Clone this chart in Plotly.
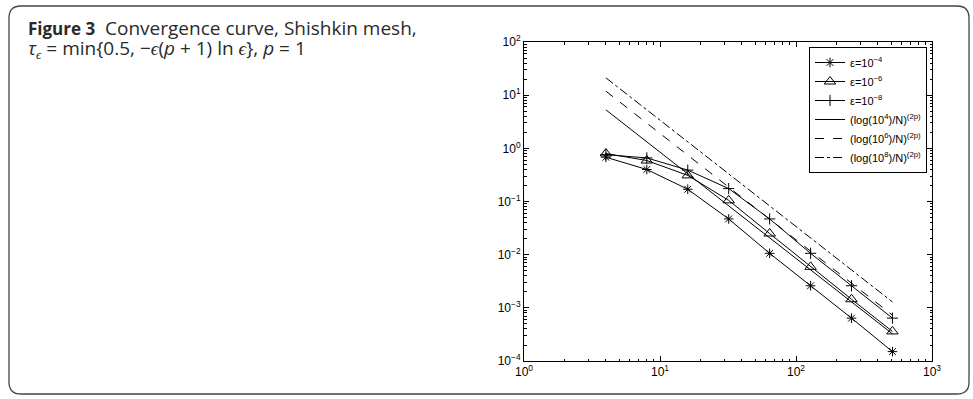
import plotly.graph_objects as go

# ---- data ----
N = [4, 8, 16, 32, 64, 128, 256, 512]
err_eps4 = [0.68, 0.40, 0.17, 0.047, 0.0106, 0.0026, 0.00064, 0.00015]
err_eps6 = [0.80, 0.59, 0.31, 0.105, 0.025, 0.0059, 0.00145, 0.00036]
err_eps8 = [0.76, 0.66, 0.39, 0.175, 0.047, 0.0106, 0.0026, 0.00064]
ref_log4 = [5.30, 1.33, 0.331, 0.0828, 0.0207, 0.00518, 0.00129, 0.000324]
ref_log6 = [11.9, 2.98, 0.746, 0.186, 0.0466, 0.0117, 0.00291, 0.000728]
ref_log8 = [21.2, 5.30, 1.33, 0.331, 0.0828, 0.0207, 0.00518, 0.00129]

names = ["ε=10<sup>−4</sup>", "ε=10<sup>−6</sup>", "ε=10<sup>−8</sup>",
         "(log(10<sup>4</sup>)/N)<sup>(2p)</sup>",
         "(log(10<sup>6</sup>)/N)<sup>(2p)</sup>",
         "(log(10<sup>8</sup>)/N)<sup>(2p)</sup>"]

x_tickvals = [1, 10, 100, 1000]
x_ticktext = ["10<sup>0</sup>", "10<sup>1</sup>", "10<sup>2</sup>", "10<sup>3</sup>"]
y_tickvals = [1e-4, 1e-3, 1e-2, 1e-1, 1, 10, 100]
y_ticktext = ["10<sup>−4</sup>", "10<sup>−3</sup>", "10<sup>−2</sup>", "10<sup>−1</sup>",
              "10<sup>0</sup>", "10<sup>1</sup>", "10<sup>2</sup>"]

W, H = 973, 399
L, R, T, B = 524, 932, 42, 361

fig = go.Figure()
line = dict(color="black", width=1)
fig.add_trace(go.Scatter(x=N, y=err_eps4, name=names[0], mode="lines+markers", line=line,
                         marker=dict(symbol="asterisk-open", size=8, color="black",
                                     line=dict(color="black", width=1))))
fig.add_trace(go.Scatter(x=N, y=err_eps6, name=names[1], mode="lines+markers", line=line,
                         marker=dict(symbol="triangle-up-open", size=10, color="black",
                                     line=dict(color="black", width=1))))
fig.add_trace(go.Scatter(x=N, y=err_eps8, name=names[2], mode="lines+markers", line=line,
                         marker=dict(symbol="cross-thin-open", size=8, color="black",
                                     line=dict(color="black", width=1))))
fig.add_trace(go.Scatter(x=N, y=ref_log4, name=names[3], mode="lines",
                         line=dict(color="black", width=1)))
fig.add_trace(go.Scatter(x=N, y=ref_log6, name=names[4], mode="lines",
                         line=dict(color="black", width=1, dash="dash")))
fig.add_trace(go.Scatter(x=N, y=ref_log8, name=names[5], mode="lines",
                         line=dict(color="black", width=1, dash="dashdot")))

axis_common = dict(type="log", showgrid=False,
                   zeroline=False, showline=True, linecolor="black", linewidth=1,
                   mirror="allticks", ticks="inside", ticklen=5, tickcolor="black",
                   tickfont=dict(family="Liberation Sans", size=12, color="black"),
                   minor=dict(ticks="inside", ticklen=2.5, dtick="D1", tickcolor="black",
                              showgrid=False))
fig.update_xaxes(range=[0, 3], tickmode="array", tickvals=x_tickvals, ticktext=x_ticktext,
                 **axis_common)
fig.update_yaxes(range=[-4, 2], tickmode="array", tickvals=y_tickvals, ticktext=y_ticktext,
                 **axis_common)

def px(x):
    return (x - L) / (R - L)

def py(y):
    return (B - y) / (B - T)

# rounded border
x0, x1, y0, y1, r = 9, 969, 6, 394, 12
path = (f"M {px(x0 + r)} {py(y0)} L {px(x1 - r)} {py(y0)} "
        f"Q {px(x1)} {py(y0)} {px(x1)} {py(y0 + r)} "
        f"L {px(x1)} {py(y1 - r)} Q {px(x1)} {py(y1)} {px(x1 - r)} {py(y1)} "
        f"L {px(x0 + r)} {py(y1)} Q {px(x0)} {py(y1)} {px(x0)} {py(y1 - r)} "
        f"L {px(x0)} {py(y0 + r)} Q {px(x0)} {py(y0)} {px(x0 + r)} {py(y0)} Z")
fig.add_shape(type="path", path=path, xref="paper", yref="paper",
              line=dict(color="#444444", width=1.3), layer="below")

cap_font = dict(family="Open Sans", size=19, color="#2a2a2a")
fig.add_annotation(xref="paper", yref="paper", x=px(26), y=py(28), xanchor="left",
                   yanchor="middle", showarrow=False, font=cap_font,
                   text="<span style='font-size:17px'><b>Figure 3</b></span>  Convergence curve, Shishkin mesh,")
fig.add_annotation(xref="paper", yref="paper", x=px(26), y=py(49), xanchor="left",
                   yanchor="middle", showarrow=False, font=cap_font,
                   text="<i>τ<sub>ϵ</sub></i> = min{0.5, −<i>ϵ</i>(<i>p</i> + 1) ln <i>ϵ</i>}, <i>p</i> = 1")

fig.update_layout(
    width=W, height=H,
    margin=dict(l=L, r=W - R, t=T, b=H - B, pad=0),
    paper_bgcolor="white", plot_bgcolor="white",
    showlegend=True,
    legend=dict(x=px(927), y=py(47), xanchor="right", yanchor="top",
                bgcolor="white", bordercolor="black", borderwidth=1,
                font=dict(family="Liberation Sans", size=11, color="black"),
                tracegroupgap=0),
)

fig.write_html("out.html", config={"displayModeBar": False},
               post_script="document.body.style.margin='0';")
